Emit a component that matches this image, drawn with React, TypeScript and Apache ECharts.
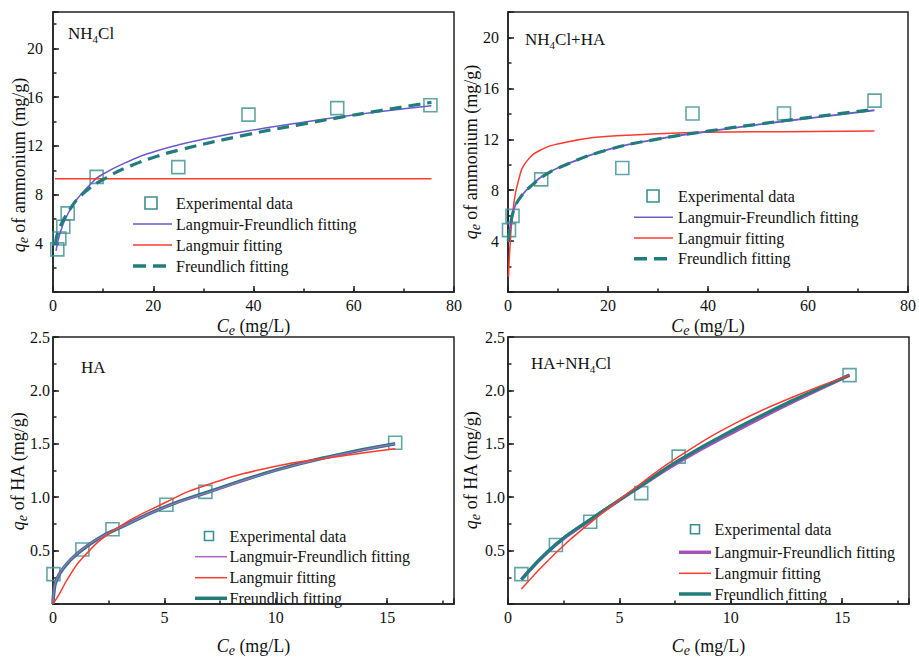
import React, { useEffect, useRef } from "react";
import * as echarts from "echarts";

// ---------- Panel (a): NH4Cl ----------
const nhExpX = [0.86, 1.26, 2.05, 2.93, 8.7, 25.0, 39.0, 56.7, 75.3];
const nhExpY = [3.5, 4.4, 5.36, 6.46, 9.46, 10.26, 14.57, 15.1, 15.34];
const nhLFX = [0.6, 1.4, 2.7, 4.7, 7.4, 9.4, 16.0, 20, 25, 30, 39, 49.3, 56.7, 65, 75.5];
const nhLFY = [3.38, 4.82, 6.2, 7.58, 8.82, 9.55, 10.9, 11.5, 12.08, 12.55, 13.24, 13.9, 14.35, 14.8, 15.29];
const nhLangX = [0.4, 75.5];
const nhLangY = [9.3, 9.3];
const nhFrX = [0.5, 1.06, 3.4, 6.05, 10.7, 16.0, 20, 25, 39, 49.3, 56.7, 65, 75.5];
const nhFrY = [3.9, 5.0, 6.8, 8.1, 9.4, 10.45, 11.05, 11.65, 12.95, 13.75, 14.3, 14.88, 15.58];

// ---------- Panel (b): NH4Cl+HA ----------
const nhaExpX = [0.2, 0.9, 6.64, 22.86, 36.9, 55.2, 73.3];
const nhaExpY = [4.86, 5.98, 8.85, 9.74, 14.02, 14.02, 15.04];
const nhaLFX = [0.05, 0.5, 1.46, 3.0, 5.1, 6.64, 10.4, 19.95, 30.4, 40, 50.3, 60, 73.3];
const nhaLFY = [3.92, 5.3, 6.8, 7.7, 8.51, 9.03, 9.82, 11.19, 12.05, 12.62, 13.17, 13.65, 14.28];
const nhaLangX = [0.1, 0.45, 1.0, 2.1, 3.8, 7.1, 10.4, 17.1, 23.8, 39.7, 55, 73.3];
const nhaLangY = [1.2, 3.9, 6.4, 8.77, 10.3, 11.27, 11.66, 12.13, 12.31, 12.55, 12.6, 12.65];
const nhaFrX = [0.05, 0.5, 1.46, 3.0, 5.1, 6.64, 10.4, 19.95, 30.4, 40, 50.3, 60, 73.3];
const nhaFrY = [4.0, 5.3, 6.75, 7.7, 8.5, 9.0, 9.8, 11.17, 12.05, 12.64, 13.2, 13.7, 14.35];

// ---------- Panel (c): HA ----------
const haExpX = [0.02, 1.32, 2.67, 5.09, 6.84, 15.36];
const haExpY = [0.28, 0.51, 0.7, 0.93, 1.05, 1.51];
const haFrX = [0, 0.05, 0.15, 0.45, 1.2, 2.1, 2.85, 5.09, 6.9, 10, 12.57, 15.36];
const haFrY = [0, 0.13, 0.22, 0.33, 0.49, 0.62, 0.7, 0.915, 1.044, 1.253, 1.387, 1.5];
const haLFX = [0, 0.05, 0.15, 0.45, 1.2, 2.1, 2.85, 5.09, 6.9, 10, 12.57, 15.36];
const haLFY = [0, 0.14, 0.225, 0.335, 0.495, 0.62, 0.7, 0.912, 1.04, 1.25, 1.385, 1.5];
const haLangX = [0, 0.3, 0.67, 1.32, 2.67, 5.09, 6.9, 10, 12.57, 15.36];
const haLangY = [0, 0.1, 0.24, 0.43, 0.68, 0.955, 1.115, 1.29, 1.375, 1.453];

// ---------- Panel (d): HA+NH4Cl ----------
const hanExpX = [0.6, 2.15, 3.69, 5.98, 7.66, 15.33];
const hanExpY = [0.28, 0.553, 0.77, 1.038, 1.38, 2.143];
const hanFitX = [0.6, 2.15, 3.69, 5.98, 7.66, 10.28, 12.82, 15.33];
const hanFrY = [0.229, 0.56, 0.79, 1.11, 1.345, 1.648, 1.91, 2.143];
const hanLFY = [0.229, 0.555, 0.786, 1.107, 1.33, 1.628, 1.896, 2.143];
const hanLangY = [0.14, 0.48, 0.76, 1.13, 1.38, 1.7, 1.94, 2.143];

// ---------- Text ----------
const legendNames = ["Experimental data", "Langmuir-Freundlich fitting", "Langmuir fitting", "Freundlich fitting"];
const xTitle = "{i|C}{s|e}{n| (mg/L)}";
const yTitleTop = "{i|q}{s|e}{n| of ammonium (mg/g)}";
const yTitleBottom = "{i|q}{s|e}{n| of HA (mg/g)}";
const panelLabels = ["{a|NH}{s|4}{a|Cl}", "{a|NH}{s|4}{a|Cl+HA}", "{a|HA}", "{a|HA+NH}{s|4}{a|Cl}"];

const FONT = "Liberation Serif, Times New Roman, serif";
const INK = "#111";
const TEAL_SQ = "#3a8f8f";
const TEAL = "#237c7c";
const PURPLE = "#6a5acd";
const MAGENTA_C = "#b461c4";
const MAGENTA_D = "#a552b6";
const RED = "#ff3b30";

const pairs = (xs: number[], ys: number[]) => xs.map((x, i) => [x, ys[i]]);

const titleRich = {
  i: { fontFamily: FONT, fontSize: 18, fontStyle: "italic", color: INK, lineHeight: 22 },
  s: { fontFamily: FONT, fontSize: 14, fontStyle: "italic", color: INK, lineHeight: 14, verticalAlign: "bottom" },
  n: { fontFamily: FONT, fontSize: 18, color: INK, lineHeight: 22 },
};
const labelRich = {
  a: { fontFamily: FONT, fontSize: 17, color: INK, lineHeight: 22 },
  s: { fontFamily: FONT, fontSize: 11, color: INK, lineHeight: 10, verticalAlign: "bottom" },
};
const legendRich = {
  t: { fontFamily: FONT, fontSize: 16, color: INK, lineHeight: 20 },
};

const grids = [
  { left: 53, top: 12, width: 401, height: 280 },
  { left: 508, top: 12, width: 401, height: 280 },
  { left: 53, top: 337, width: 401, height: 280 },
  { left: 508, top: 337, width: 401, height: 280 },
];

const axisLineStyle = { color: "#222", width: 1.5 };

function xAxes(gi: number, max: number, major: number, minor: number) {
  return [
    {
      type: "value", gridIndex: gi, position: "bottom", min: 0, max, interval: major,
      axisLine: { show: true, onZero: false, lineStyle: axisLineStyle },
      axisTick: { show: true, inside: true, length: 6, lineStyle: axisLineStyle },
      axisLabel: {
        fontFamily: FONT, fontSize: 16, color: INK, margin: 5,
        formatter: (v: number) => (Math.abs(v / major - Math.round(v / major)) < 1e-6 ? String(v) : ""),
      },
      splitLine: { show: false },
      name: xTitle, nameLocation: "middle", nameGap: gi < 2 ? 23 : 31,
      nameTextStyle: { fontFamily: FONT, fontSize: 18, color: INK, rich: titleRich },
    },
    {
      type: "value", gridIndex: gi, position: "bottom", min: 0, max, interval: minor,
      axisLine: { show: false, onZero: false }, axisLabel: { show: false }, splitLine: { show: false },
      axisTick: { show: true, inside: true, length: 3.5, lineStyle: axisLineStyle },
    },
  ];
}

function yAxes(gi: number, max: number, major: number, minor: number, labelMax: number, decimals: number, margin: number) {
  return [
    {
      type: "value", gridIndex: gi, position: "left", min: 0, max, interval: major,
      axisLine: { show: true, onZero: false, lineStyle: axisLineStyle },
      axisTick: { show: true, inside: true, length: 6, lineStyle: axisLineStyle },
      axisLabel: {
        fontFamily: FONT, fontSize: 16, color: INK, margin,
        formatter: (v: number) => (v > 0 && v <= labelMax + 1e-6 ? v.toFixed(decimals) : ""),
      },
      splitLine: { show: false },
    },
    {
      type: "value", gridIndex: gi, position: "left", min: 0, max, interval: minor,
      axisLine: { show: false, onZero: false }, axisLabel: { show: false }, splitLine: { show: false },
      axisTick: { show: true, inside: true, length: 3.5, lineStyle: axisLineStyle },
    },
  ];
}

function lineSeries(gi: number, name: string, data: number[][], color: string, width: number, dash?: number[]) {
  return {
    type: "line", name, xAxisIndex: gi * 2, yAxisIndex: gi * 2, data,
    smooth: 0.5, showSymbol: false, symbol: "none",
    lineStyle: { color, width, type: dash || "solid" }, itemStyle: { color }, z: 3,
  };
}

function scatterSeries(gi: number, data: number[][], size: number) {
  return {
    type: "scatter", name: legendNames[0], xAxisIndex: gi * 2, yAxisIndex: gi * 2, data,
    symbol: "rect", symbolSize: size,
    itemStyle: { color: "rgba(0,0,0,0)", borderColor: TEAL_SQ, borderWidth: 1.6 }, z: 2,
  };
}

type LegLine = { color: string; width: number; dash?: number[] };

function legend(sqX: number, sqSize: number, lx1: number, lx2: number, tx: number, rows: number[], lines: LegLine[]) {
  const els: any[] = [];
  els.push({
    type: "rect", silent: true,
    shape: { x: sqX - sqSize / 2, y: rows[0] - sqSize / 2, width: sqSize, height: sqSize },
    style: { fill: "none", stroke: TEAL_SQ, lineWidth: 1.6 },
  });
  lines.forEach((l, k) => {
    els.push({
      type: "line", silent: true,
      shape: { x1: lx1, y1: rows[k + 1], x2: lx2, y2: rows[k + 1] },
      style: { stroke: l.color, lineWidth: l.width, lineDash: l.dash || null },
    });
  });
  legendNames.forEach((t, k) => {
    els.push({
      type: "text", silent: true, x: tx, y: rows[k],
      style: { text: `{t|${t}}`, rich: legendRich, font: `16px ${FONT}`, fill: INK, align: "left", verticalAlign: "middle" },
    });
  });
  return els;
}

function richText(x: number, y: number, text: string, rich: any, rotate = false) {
  return {
    type: "text", silent: true, x, y, rotation: rotate ? Math.PI / 2 : 0,
    style: { text, rich, font: `18px ${FONT}`, fill: INK, align: rotate ? "center" : "left", verticalAlign: "middle" },
  };
}

const DASH = [12, 7];

export default function App() {
  const ref = useRef<HTMLDivElement>(null);
  useEffect(() => {
    if (!ref.current) return;
    const chart = echarts.init(ref.current, null, { renderer: "svg" });
    const option: any = {
      animation: false,
      backgroundColor: "#fff",
      textStyle: { fontFamily: FONT },
      grid: grids.map((g) => ({ ...g, show: true, borderColor: "#222", borderWidth: 1.5, backgroundColor: "transparent" })),
      xAxis: [...xAxes(0, 80, 20, 10), ...xAxes(1, 80, 20, 10), ...xAxes(2, 18, 5, 2.5), ...xAxes(3, 18, 5, 2.5)],
      yAxis: [
        ...yAxes(0, 23, 4, 2, 20, 0, 10),
        ...yAxes(1, 22, 4, 2, 20, 0, 9),
        ...yAxes(2, 2.5, 0.5, 0.25, 2.5, 1, 3),
        ...yAxes(3, 2.5, 0.5, 0.25, 2.5, 1, 3),
      ],
      series: [
        // (a)
        lineSeries(0, legendNames[1], pairs(nhLFX, nhLFY), PURPLE, 1.5),
        lineSeries(0, legendNames[2], pairs(nhLangX, nhLangY), RED, 1.5),
        lineSeries(0, legendNames[3], pairs(nhFrX, nhFrY), TEAL, 3.2, DASH),
        scatterSeries(0, pairs(nhExpX, nhExpY), 13),
        // (b)
        lineSeries(1, legendNames[2], pairs(nhaLangX, nhaLangY), RED, 1.5),
        lineSeries(1, legendNames[1], pairs(nhaLFX, nhaLFY), PURPLE, 1.8),
        lineSeries(1, legendNames[3], pairs(nhaFrX, nhaFrY), TEAL, 3.2, DASH),
        scatterSeries(1, pairs(nhaExpX, nhaExpY), 13),
        // (c)
        lineSeries(2, legendNames[3], pairs(haFrX, haFrY), TEAL, 3.5),
        lineSeries(2, legendNames[1], pairs(haLFX, haLFY), MAGENTA_C, 1.3),
        lineSeries(2, legendNames[2], pairs(haLangX, haLangY), RED, 1.5),
        scatterSeries(2, pairs(haExpX, haExpY), 13),
        // (d)
        lineSeries(3, legendNames[1], pairs(hanFitX, hanLFY), MAGENTA_D, 3.5),
        lineSeries(3, legendNames[3], pairs(hanFitX, hanFrY), TEAL, 3.2),
        lineSeries(3, legendNames[2], pairs(hanFitX, hanLangY), RED, 1.5),
        scatterSeries(3, pairs(hanExpX, hanExpY), 13),
      ],
      graphic: [
        ...legend(151, 12, 133, 172, 176, [203, 224, 245, 266], [
          { color: PURPLE, width: 1.5 }, { color: RED, width: 1.5 }, { color: TEAL, width: 3.5, dash: [13, 7] },
        ]),
        ...legend(653, 12, 634, 673, 678, [196, 217.3, 238, 258.7], [
          { color: PURPLE, width: 1.5 }, { color: RED, width: 1.5 }, { color: TEAL, width: 3.5, dash: [13, 7] },
        ]),
        ...legend(209, 9, 195, 227, 229.5, [536, 556.7, 577.7, 598.3], [
          { color: MAGENTA_C, width: 1.5 }, { color: RED, width: 1.5 }, { color: TEAL, width: 3.5 },
        ]),
        ...legend(695, 9, 679, 711, 714.5, [529.3, 552.3, 573.3, 594], [
          { color: MAGENTA_D, width: 3.5 }, { color: RED, width: 1.5 }, { color: TEAL, width: 3.5 },
        ]),
        richText(68, 33, panelLabels[0], labelRich),
        richText(525, 39, panelLabels[1], labelRich),
        richText(81, 367, panelLabels[2], labelRich),
        richText(531, 363, panelLabels[3], labelRich),
        richText(19, 165, yTitleTop, titleRich, true),
        richText(471, 152, yTitleTop, titleRich, true),
        richText(18, 471, yTitleBottom, titleRich, true),
        richText(471, 470, yTitleBottom, titleRich, true),
      ],
    };
    chart.setOption(option);
    return () => chart.dispose();
  }, []);
  return (
    <div
      ref={ref}
      style={{ position: "fixed", left: 0, top: 0, width: 919, height: 658, background: "#fff" }}
    />
  );
}
